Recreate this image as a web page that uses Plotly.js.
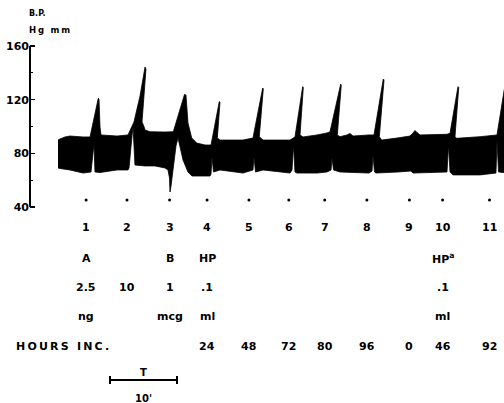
<!DOCTYPE html>
<html><head><meta charset="utf-8">
<script src="https://cdn.plot.ly/plotly-3.0.1.min.js"></script>
<style>html,body{margin:0;padding:0;background:#fff;} #chart{width:504px;height:403px;}</style>
</head><body><div id="chart"></div>
<script>
// Time in minutes, blood pressure in mm Hg (upper = systolic envelope, lower = diastolic envelope)
const timeUpper = [0,0.30,1.04,1.79,3.73,4.78,6.01,6.12,6.27,6.42,8.81,10.45,11.34,12.24,12.99,13.13,12.54,12.84,12.99,13.73,15.97,17.21,18.88,19.10,19.40,19.96,20.70,21.94,22.84,24.07,24.18,23.78,24.18,27.61,29.10,30.55,30.64,30.04,30.60,34.63,35.37,36.52,36.61,36.12,36.57,38.66,40.15,40.60,42.19,42.28,41.69,42.09,43.13,43.58,44.03,46.42,47.16,48.55,48.66,47.96,48.31,50.60,52.54,52.99,53.28,53.58,54.03,58.06,58.51,59.70,59.81,59.25,59.51,62.99,65.52,66.12,66.57,67.01,67.16];
const bpUpper = [89.9,90.7,92.2,92.9,92.2,92.2,121.0,120.5,99.6,93.7,92.9,93.7,103.4,122.7,144.3,142.9,103.4,99.9,97.4,96.1,95.9,96.1,123.9,123.5,102.6,91.4,87.7,86.2,86.2,118.5,118.3,91.4,89.9,89.9,91.4,128.7,128.0,92.4,89.9,89.9,92.2,129.7,129.1,93.7,92.2,93.7,95.2,96.1,131.5,130.9,93.7,92.4,93.7,94.8,92.9,93.7,93.7,135.4,134.7,92.4,89.9,91.4,92.9,95.2,97.0,95.5,93.7,94.2,94.9,129.7,129.1,92.4,91.2,92.4,93.7,112.3,126.5,138.4,93.7];
const timeLower = [0,0.30,1.79,3.73,4.93,5.27,5.37,5.52,6.27,8.81,10.45,10.60,11.19,11.49,12.99,14.48,15.97,16.42,16.64,16.72,16.87,17.61,17.91,18.66,19.40,20.00,22.69,22.84,22.99,23.21,24.18,27.61,29.10,29.25,29.48,30.60,34.63,34.93,35.15,35.37,35.67,38.66,40.15,40.75,40.90,41.12,42.09,46.42,46.87,47.01,47.24,47.46,50.75,52.69,52.99,58.06,58.28,58.51,58.96,62.99,65.37,65.52,65.75,67.16];
const bpLower = [69.1,68.7,67.6,65.3,66.1,82.5,86.2,66.1,65.7,67.6,67.6,69.1,100.4,71.3,70.6,70.6,69.1,67.6,61.6,51.2,55.6,85.5,91.4,75.0,66.1,63.1,63.1,64.6,77.3,66.1,67.6,65.3,67.6,77.3,66.1,67.6,65.3,67.6,86.2,66.1,65.3,65.3,66.1,67.6,76.5,67.6,66.1,65.3,66.8,78.8,66.1,65.3,66.1,66.8,65.3,66.1,86.2,66.1,63.9,63.9,65.3,89.9,66.1,65.3];

const eventTimes = [4.2,10.3,16.65,22.25,28.5,34.45,39.8,46.1,52.45,57.4,64.4];
const eventMarkLevel = 45.2;
const eventNumbers = ['1','2','3','4','5','6','7','8','9','10','11'];
const agents = ['A','','B','HP','','','','','','HP<sup>a</sup>',''];
const doses = ['2.5','10','1','.1','','','','','','.1',''];
const units = ['ng','','mcg','ml','','','','','','ml',''];
const hoursInc = ['','','','24','48','72','80','96','0','46','92'];

const yTickVals = [40,80,120,160];
const yTickText = ['40','80','120','160'];
const yMinorVals = [60,100,140];

const scaleStart = 7.76, scaleMinutes = 10;

const FONT = 'DejaVu Sans';
const black = '#000';

const traces = [
  {x: timeLower, y: bpLower, mode:'lines', line:{color:black, width:0.8, simplify:false}, hoverinfo:'skip'},
  {x: timeUpper, y: bpUpper, mode:'lines', fill:'tonexty', fillcolor:black, line:{color:black, width:0.8, simplify:false}, hoverinfo:'skip'},
  {x: eventTimes, y: eventTimes.map(()=>eventMarkLevel), mode:'markers', marker:{color:black, size:3}, hoverinfo:'skip'}
];

const rows = [
  {labels: eventNumbers, y: 0.4367},
  {labels: agents, y: 0.3598},
  {labels: doses, y: 0.2878},
  {labels: units, y: 0.2134},
  {labels: hoursInc, y: 0.1390}
];
const annotations = [];
rows.forEach(r => r.labels.forEach((txt,i) => {
  if (!txt) return;
  annotations.push({xref:'x', yref:'paper', x:eventTimes[i], y:r.y, text:txt, showarrow:false,
    xanchor:'center', yanchor:'middle', font:{family:FONT, size:11, color:black, weight:'bold'}});
}));
annotations.push({xref:'paper', yref:'paper', x:-0.0338, y:0.1390, xanchor:'left', yanchor:'middle', showarrow:false,
  text:'<span style="letter-spacing:2.2px">HOURS INC.</span>', font:{family:FONT, size:11, color:black, weight:'bold'}});
annotations.push({xref:'paper', yref:'paper', x:-0.0063, y:0.9677, xanchor:'left', yanchor:'middle', showarrow:false,
  text:'B.P.', font:{family:FONT, size:8, color:black, weight:'bold'}});
annotations.push({xref:'paper', yref:'paper', x:-0.0063, y:0.9256, xanchor:'left', yanchor:'middle', showarrow:false,
  text:'<span style="letter-spacing:1.8px">Hg mm</span>', font:{family:FONT, size:8.5, color:black, weight:'bold'}});
annotations.push({xref:'x', yref:'paper', x:scaleStart+scaleMinutes/2, y:0.0769, xanchor:'center', yanchor:'middle', showarrow:false,
  text:'T', font:{family:FONT, size:10, color:black, weight:'bold'}});
annotations.push({xref:'x', yref:'paper', x:scaleStart+scaleMinutes/2, y:0.0124, xanchor:'center', yanchor:'middle', showarrow:false,
  text:"10'", font:{family:FONT, size:10, color:black, weight:'bold'}});

const shapes = [
  {type:'line', xref:'paper', yref:'y', x0:0, x1:0, y0:40, y1:160, line:{color:black, width:2}},
  {type:'line', xref:'x', yref:'paper', x0:scaleStart, x1:scaleStart+scaleMinutes, y0:0.0571, y1:0.0571, line:{color:black, width:2}},
  {type:'line', xref:'x', yref:'paper', x0:scaleStart, x1:scaleStart, y0:0.0471, y1:0.0670, line:{color:black, width:2}},
  {type:'line', xref:'x', yref:'paper', x0:scaleStart+scaleMinutes, x1:scaleStart+scaleMinutes, y0:0.0471, y1:0.0670, line:{color:black, width:2}}
];

const layout = {
  width:504, height:403, margin:{l:30, r:0, t:0, b:0},
  paper_bgcolor:'#fff', plot_bgcolor:'#fff', showlegend:false,
  xaxis:{range:[-4.179, 66.567], visible:false, fixedrange:true},
  yaxis:{range:[-106.08, 194.28], showgrid:false, zeroline:false, showline:false, fixedrange:true,
    tickmode:'array', tickvals:yTickVals, ticktext:yTickText, ticks:'inside', ticklen:5, tickwidth:1.6, tickcolor:black,
    tickfont:{family:FONT, size:11, color:black, weight:'bold'},
    minor:{tickmode:'array', tickvals:yMinorVals, ticks:'inside', ticklen:3, tickwidth:1.3, tickcolor:black, showgrid:false}},
  shapes: shapes,
  annotations: annotations
};

Plotly.newPlot('chart', traces, layout, {staticPlot:true, displayModeBar:false});
</script>
</body></html>
